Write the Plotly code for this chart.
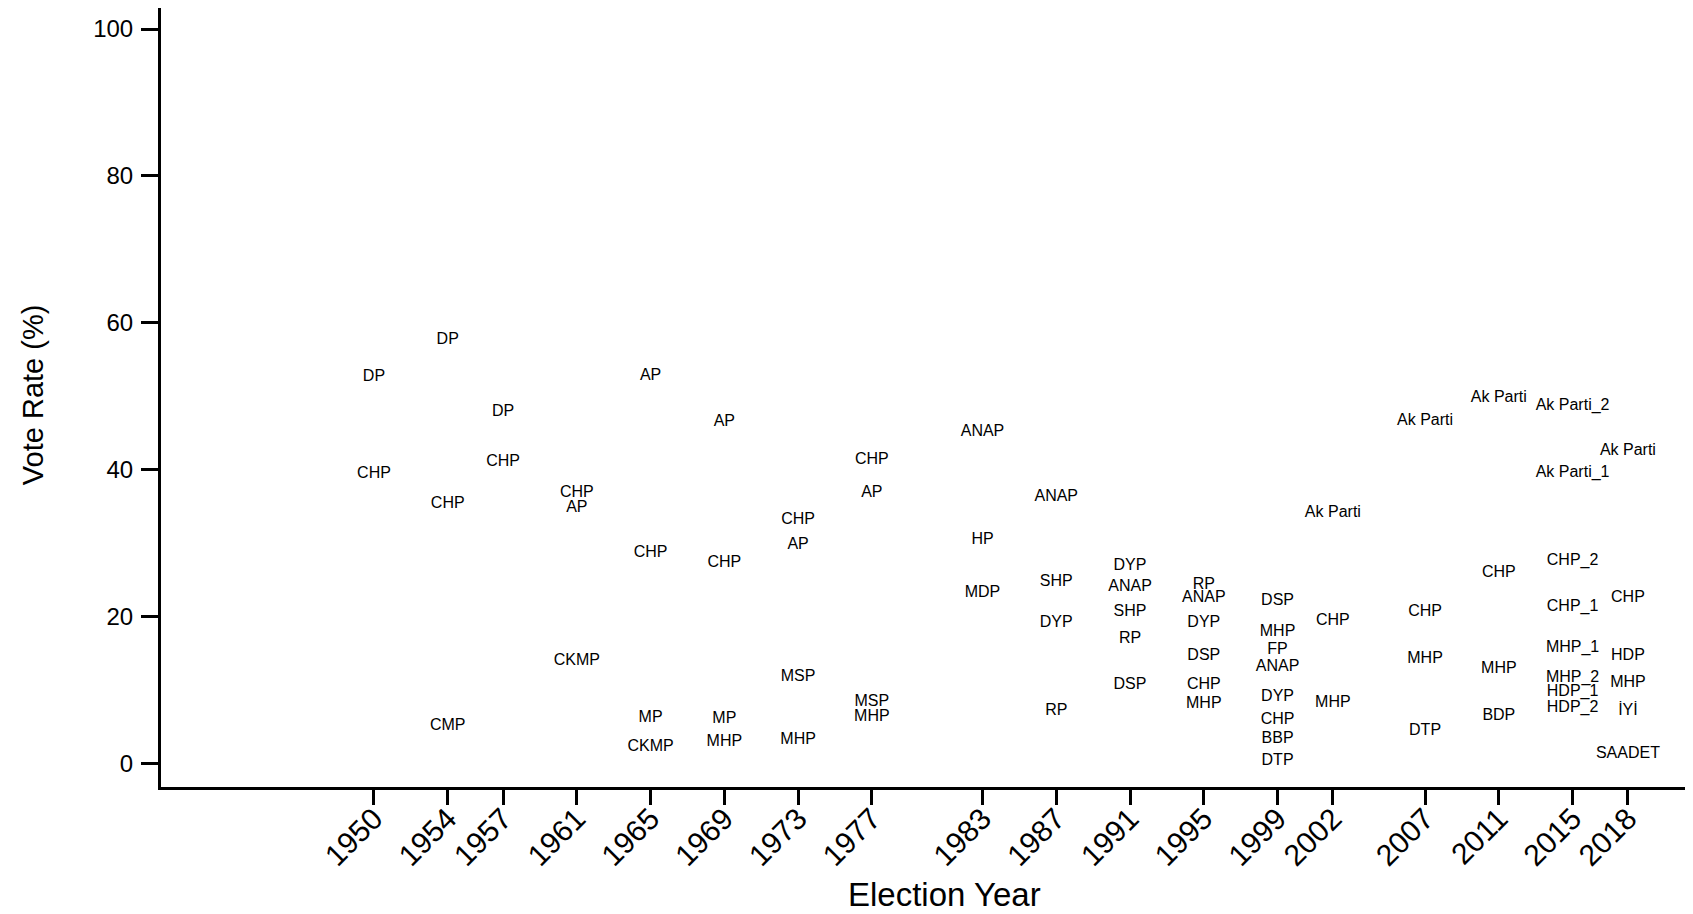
import plotly.graph_objects as go

# ---- data ----
tick_years = [1950, 1954, 1957, 1961, 1965, 1969, 1973, 1977, 1983, 1987,
              1991, 1995, 1999, 2002, 2007, 2011, 2015, 2018]

years = [
    1950, 1950,
    1954, 1954, 1954,
    1957, 1957,
    1961, 1961, 1961,
    1965, 1965, 1965, 1965,
    1969, 1969, 1969, 1969,
    1973, 1973, 1973, 1973,
    1977, 1977, 1977, 1977,
    1983, 1983, 1983,
    1987, 1987, 1987, 1987,
    1991, 1991, 1991, 1991, 1991,
    1995, 1995, 1995, 1995, 1995, 1995,
    1999, 1999, 1999, 1999, 1999, 1999, 1999, 1999,
    2002, 2002, 2002,
    2007, 2007, 2007, 2007,
    2011, 2011, 2011, 2011,
    2015, 2015, 2015, 2015, 2015, 2015, 2015, 2015,
    2018, 2018, 2018, 2018, 2018, 2018,
]

parties = [
    "DP", "CHP",
    "DP", "CHP", "CMP",
    "DP", "CHP",
    "CHP", "AP", "CKMP",
    "AP", "CHP", "MP", "CKMP",
    "AP", "CHP", "MP", "MHP",
    "CHP", "AP", "MSP", "MHP",
    "CHP", "AP", "MSP", "MHP",
    "ANAP", "HP", "MDP",
    "ANAP", "SHP", "DYP", "RP",
    "DYP", "ANAP", "SHP", "RP", "DSP",
    "RP", "ANAP", "DYP", "DSP", "CHP", "MHP",
    "DSP", "MHP", "FP", "ANAP", "DYP", "CHP", "BBP", "DTP",
    "Ak Parti", "CHP", "MHP",
    "Ak Parti", "CHP", "MHP", "DTP",
    "Ak Parti", "CHP", "MHP", "BDP",
    "Ak Parti_2", "Ak Parti_1", "CHP_2", "CHP_1", "MHP_1", "MHP_2", "HDP_1", "HDP_2",
    "Ak Parti", "CHP", "HDP", "MHP", "İYİ", "SAADET",
]

votes = [
    52.6, 39.4,
    57.6, 35.3, 5.1,
    47.8, 41.0,
    36.8, 34.8, 14.0,
    52.8, 28.7, 6.2, 2.2,
    46.5, 27.3, 6.0, 2.9,
    33.2, 29.7, 11.8, 3.2,
    41.3, 36.8, 8.4, 6.3,
    45.1, 30.4, 23.2,
    36.3, 24.7, 19.1, 7.1,
    26.9, 24.0, 20.7, 16.9, 10.7,
    24.3, 22.5, 19.1, 14.6, 10.7, 8.1,
    22.2, 17.9, 15.4, 13.2, 9.1, 5.9, 3.4, 0.4,
    34.1, 19.4, 8.2,
    46.6, 20.7, 14.3, 4.4,
    49.7, 25.9, 12.9, 6.5,
    48.7, 39.6, 27.6, 21.3, 15.7, 11.6, 9.7, 7.6,
    42.5, 22.6, 14.6, 11.0, 7.1, 1.3,
]

FONT = "Liberation Sans, Arial, Helvetica, sans-serif"

fig = go.Figure()
fig.add_trace(go.Scatter(
    x=years, y=votes, text=parties,
    mode="text", textposition="middle center",
    textfont=dict(family=FONT, size=16, color="black"),
    hoverinfo="skip", showlegend=False,
))

# page body has an 8px margin, so the figure is drawn from (8, 8)
OFF = 8
W, H = 1693 - OFF, 914 - OFF
PL, PR, PT, PB = 161, 1693, 8, 786.7   # plot area in page pixels
ML, MR, MT, MB = PL - OFF, 1693 - PR, PT - OFF, 914 - PB

fig.update_layout(
    width=W, height=H,
    margin=dict(l=ML, r=MR, t=MT, b=MB, pad=0),
    paper_bgcolor="white", plot_bgcolor="white",
    font=dict(family=FONT, color="black"),
    showlegend=False,
    hovermode=False,
)

fig.update_xaxes(
    range=[1938.45, 2021.53],
    tickmode="array", tickvals=tick_years,
    ticktext=[str(y) for y in tick_years],
    tickangle=-45,
    tickfont=dict(family=FONT, size=30, color="black"),
    ticks="outside", ticklen=15, tickwidth=3, tickcolor="black",
    ticklabelstandoff=-16,
    showline=True, linewidth=3, linecolor="black",
    showgrid=False, zeroline=False,
)
fig.update_yaxes(
    range=[-3.19, 102.86],
    tickmode="array", tickvals=[0, 20, 40, 60, 80, 100],
    tickfont=dict(family=FONT, size=24, color="black"),
    ticks="outside", ticklen=17, tickwidth=3, tickcolor="black",
    ticklabelstandoff=3,
    showline=True, linewidth=3, linecolor="black",
    showgrid=False, zeroline=False,
)


def px_to_paper(px, py):
    return (px - PL) / (PR - PL), (PB - py) / (PB - PT)


ex, ey = px_to_paper(944, 894)
fig.add_annotation(
    text="Election Year", showarrow=False,
    xref="paper", yref="paper", x=ex, y=ey,
    xanchor="center", yanchor="middle",
    font=dict(family=FONT, size=33, color="black"),
)
vx, vy = px_to_paper(33, 395)
fig.add_annotation(
    text="Vote Rate (%)", showarrow=False, textangle=-90,
    xref="paper", yref="paper", x=vx, y=vy,
    xanchor="center", yanchor="middle",
    font=dict(family=FONT, size=29, color="black"),
)

fig.write_html("out.html", config={"displayModeBar": False})
